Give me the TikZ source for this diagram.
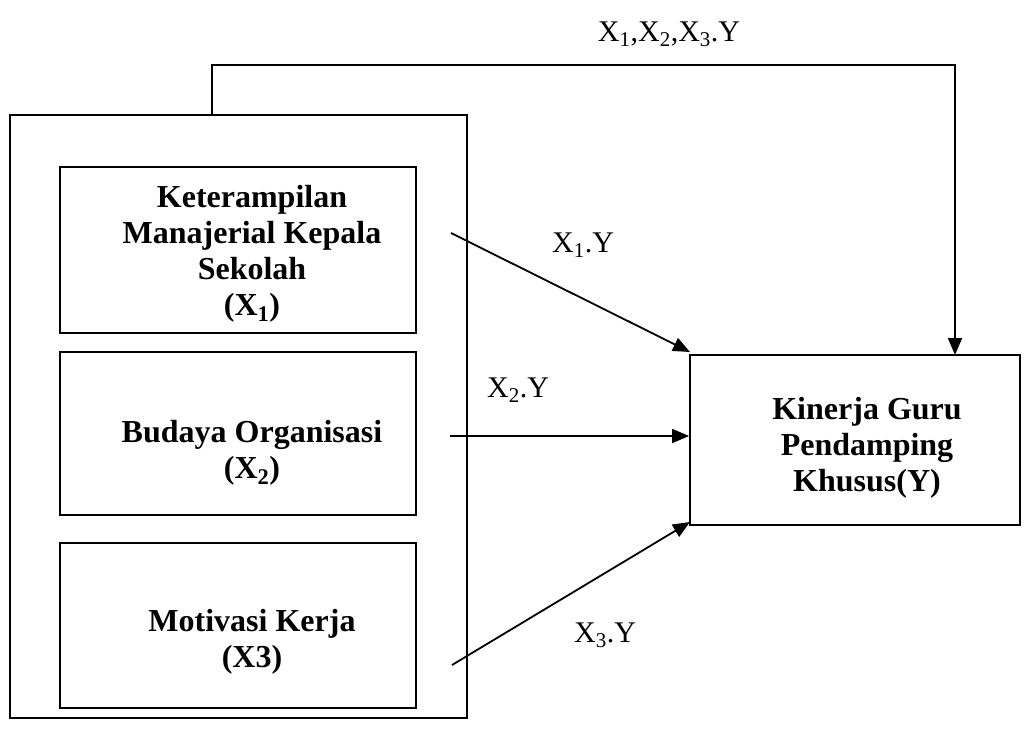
\documentclass[tikz,border=0pt]{standalone}
\usepackage{fontspec}
\setmainfont{Liberation Serif}
\usetikzlibrary{arrows.meta}
\begin{document}
\begin{tikzpicture}[x=1pt,y=-1pt,
  box/.style={draw,line width=1.8pt,inner sep=0pt},
  lbl/.style={font=\fontsize{30}{34}\selectfont,anchor=base,inner sep=0pt},
  btxt/.style={font=\fontsize{32}{36}\selectfont\bfseries,align=center,inner sep=0pt},
  conn/.style={line width=1.8pt,-{Triangle[length=17pt,width=14pt]}}]
\useasboundingbox (0,0) rectangle (1036,736);
\draw[box] (10,115) rectangle (467,718);
\node[box,minimum width=356pt,minimum height=166pt] (x1) at (238,250) {};
\node[box,minimum width=356pt,minimum height=163pt] (x2) at (238,433.5) {};
\node[box,minimum width=356pt,minimum height=165pt] (x3) at (238,625.5) {};
\node[box,minimum width=330pt,minimum height=170pt] (y) at (855,440) {};
\node[btxt] (t1) at (252,254) {Keterampilan\\Manajerial Kepala\\Sekolah\\(X\textsubscript{1})};
\node[btxt] (t2) at (252,453) {Budaya Organisasi\\(X\textsubscript{2})};
\node[btxt] (t3) at (252,642) {Motivasi Kerja\\(X3)};
\node[btxt] (ty) at (867,448) {Kinerja Guru\\Pendamping\\Khusus(Y)};
\coordinate (a1) at (451,233);
\coordinate (a2) at (450,436);
\coordinate (a3) at (452,665);
\coordinate (t0) at (212,115);
\draw[conn] (a1) -- (690,352);
\draw[conn] (a2) -- (y.west |- a2);
\draw[conn] (a3) -- (690,522);
\draw[conn] (t0) -- (212,65) -- (955,65) -- (955,355);
\node[lbl] (l1) at (583,252) {X\textsubscript{1}.Y};
\node[lbl] (l2) at (518,397) {X\textsubscript{2}.Y};
\node[lbl] (l3) at (605,642) {X\textsubscript{3}.Y};
\node[lbl] (l0) at (669,41) {X\textsubscript{1},X\textsubscript{2},X\textsubscript{3}.Y};
\end{tikzpicture}
\end{document}
